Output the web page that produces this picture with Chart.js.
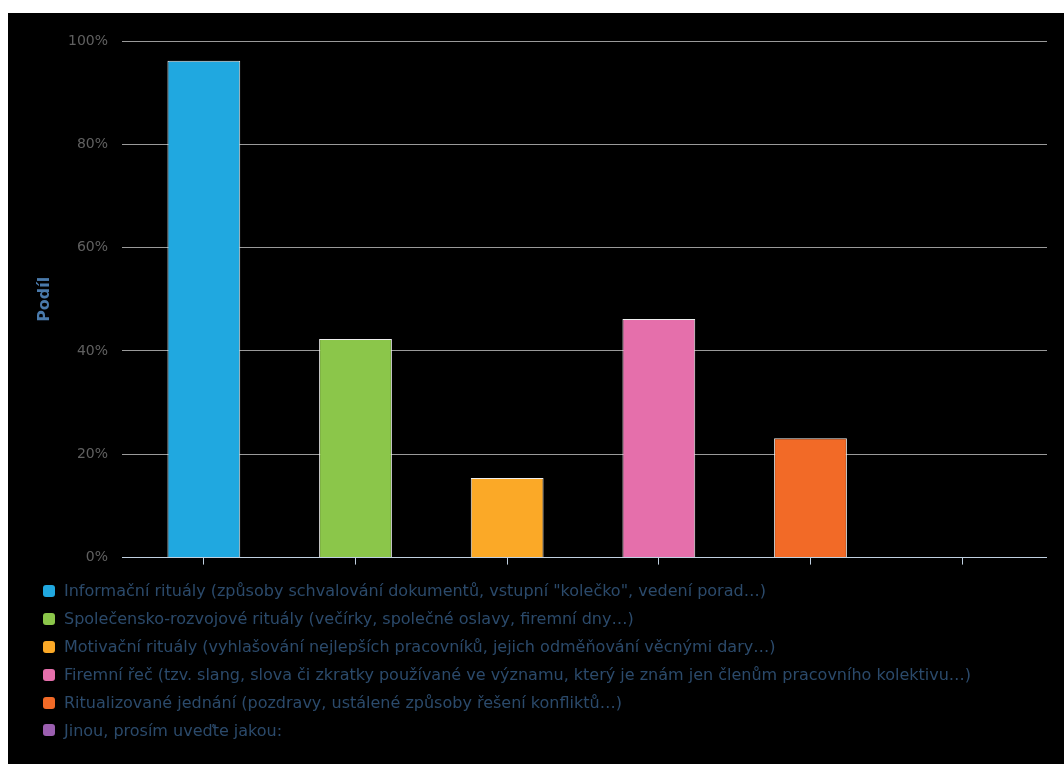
<!DOCTYPE html>
<html>
<head>
<meta charset="utf-8">
<script src="https://cdn.jsdelivr.net/npm/chart.js@4.4.0/dist/chart.umd.min.js"></script>
<style>
html, body { margin: 0; padding: 0; background: #fff; }
#box { position: absolute; left: 8px; top: 13px; width: 1056px; height: 751px; background: #000; }
#wrap { position: absolute; left: 0; top: 0; width: 1056px; height: 567px; }
#legend { position: absolute; left: 35px; top: 564px; margin: 0; padding: 0; list-style: none;
  font-family: "DejaVu Sans"; font-size: 16px; color: #2b4a6b; }
#legend li { height: 27.9px; display: flex; align-items: center; white-space: nowrap; }
#legend span.sw { display: inline-block; width: 12px; height: 12px; border-radius: 3px; margin-right: 9px; }
</style>
</head>
<body>
<div id="box">
  <div id="wrap"><canvas id="bar_chart"></canvas></div>
  <ul id="legend"></ul>
</div>
<script>
var categories = [
    'Informační rituály (způsoby schvalování dokumentů, vstupní "kolečko", vedení porad…)',
    'Společensko-rozvojové rituály (večírky, společné oslavy, firemní dny…)',
    'Motivační rituály (vyhlašování nejlepších pracovníků, jejich odměňování věcnými dary…)',
    'Firemní řeč (tzv. slang, slova či zkratky používané ve významu, který je znám jen členům pracovního kolektivu…)',
    'Ritualizované jednání (pozdravy, ustálené způsoby řešení konfliktů…)',
    'Jinou, prosím uveďte jakou:'
];
var shares = [96.2, 42.3, 15.4, 46.2, 23.1, 0];
var colors = ['#20a8e0', '#8bc64a', '#fba927', '#e56fab', '#f26a27', '#9b5fb0'];
var yTicks = [0, 20, 40, 60, 80, 100];

var gridColor = function (ctx) {
    return ctx.tick && ctx.tick.value === 0 ? '#c0d0e0' : '#9a9a9a';
};

// legend, one item per line
var ul = document.getElementById('legend');
for (var i = 0; i < categories.length; i++) {
    var li = document.createElement('li');
    var sw = document.createElement('span');
    sw.className = 'sw';
    sw.style.background = colors[i];
    li.appendChild(sw);
    li.appendChild(document.createTextNode(categories[i]));
    ul.appendChild(li);
}

var config = {
    type: 'bar',
    data: {
        labels: categories,
        datasets: [{
            label: 'Podíl',
            data: shares,
            backgroundColor: colors,
            borderColor: '#eeeeee',
            borderWidth: 1,
            categoryPercentage: 0.8,
            barPercentage: 0.6
        }]
    },
    options: {
        responsive: true,
        maintainAspectRatio: false,
        animation: false,
        layout: { padding: { top: 28, right: 17, left: 0, bottom: 0 } },
        plugins: { legend: { display: false }, tooltip: { enabled: false } },
        scales: {
            x: {
                offset: true,
                grid: { offset: false, drawOnChartArea: false, tickLength: 7, color: '#c0d0e0' },
                border: { display: false },
                ticks: { display: false },
                afterFit: function (a) { a.height = 8; }
            },
            y: {
                min: 0,
                max: 100,
                afterBuildTicks: function (a) {
                    a.ticks = yTicks.map(function (v) { return { value: v }; });
                },
                ticks: {
                    callback: function (v) { return v + '%'; },
                    color: '#606060',
                    font: { family: 'DejaVu Sans', size: 14 },
                    padding: 14
                },
                grid: { color: gridColor, tickLength: 6 },
                border: { display: false },
                title: {
                    display: true,
                    text: 'Podíl',
                    color: '#4a7aab',
                    font: { family: 'DejaVu Sans', size: 16, weight: 'bold' },
                    padding: { top: 27, bottom: 0 }
                },
                afterFit: function (a) { a.width = 120; }
            },
            y2: {
                position: 'right',
                min: 0,
                max: 100,
                afterBuildTicks: function (a) {
                    a.ticks = yTicks.map(function (v) { return { value: v }; });
                },
                ticks: { display: false },
                grid: { drawOnChartArea: false, tickLength: 9, color: gridColor },
                border: { display: false },
                afterFit: function (a) { a.width = 9; }
            }
        }
    }
};

new Chart(document.getElementById('bar_chart').getContext('2d'), config);
</script>
</body>
</html>
